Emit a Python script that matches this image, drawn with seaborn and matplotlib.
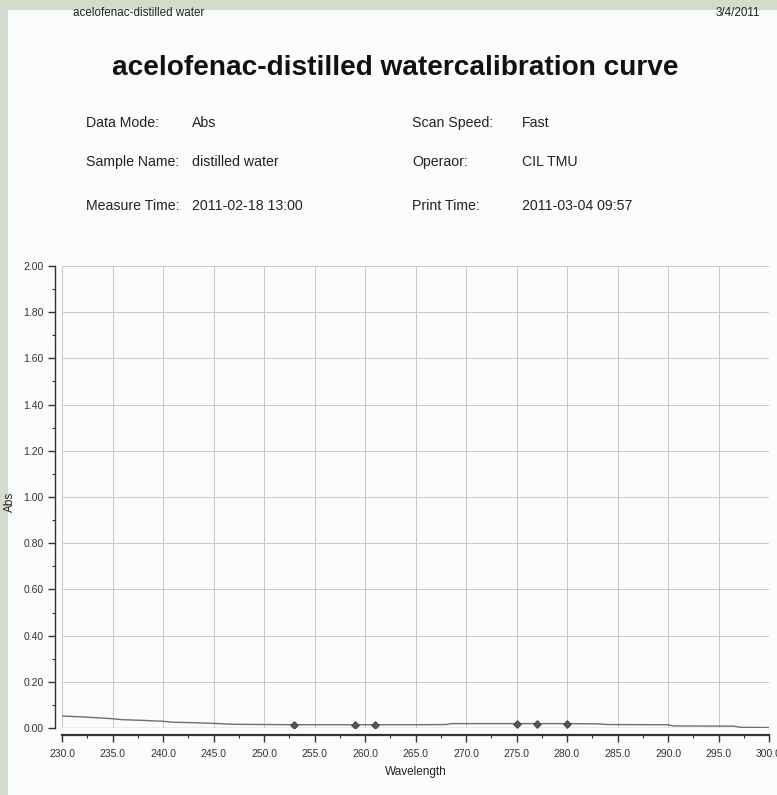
import matplotlib
matplotlib.use("Agg")
import matplotlib.pyplot as plt
from matplotlib.patches import Rectangle
from matplotlib.ticker import MultipleLocator, FormatStrFormatter
import pandas as pd
import seaborn as sns

# Spectrum trace (wavelength in nm, absorbance)
wavelength = [230.0, 232.0, 234.0, 235.0, 236.0, 238.0, 240.0, 241.0, 243.0, 245.0,
              247.0, 250.0, 255.0, 260.0, 265.0, 268.0, 268.6, 275.0, 280.0, 283.0,
              284.0, 290.0, 290.5, 296.5, 297.2, 300.0]
absorbance = [0.052, 0.048, 0.043, 0.040, 0.036, 0.033, 0.029, 0.025, 0.023, 0.020,
              0.016, 0.015, 0.014, 0.014, 0.014, 0.015, 0.019, 0.019, 0.019, 0.018,
              0.015, 0.014, 0.009, 0.008, 0.003, 0.002]

# Picked peak / valley points
pick_wavelength = [253.0, 259.0, 261.0, 275.0, 277.0, 280.0]
pick_absorbance = [0.014, 0.014, 0.014, 0.019, 0.019, 0.019]

x_ticks = [230.0, 235.0, 240.0, 245.0, 250.0, 255.0, 260.0, 265.0, 270.0, 275.0,
           280.0, 285.0, 290.0, 295.0, 300.0]
y_ticks = [0.00, 0.20, 0.40, 0.60, 0.80, 1.00, 1.20, 1.40, 1.60, 1.80, 2.00]

info_left = [("Data Mode:", "Abs"), ("Sample Name:", "distilled water"),
             ("Measure Time:", "2011-02-18 13:00")]
info_right = [("Scan Speed:", "Fast"), ("Operaor:", "CIL TMU"),
              ("Print Time:", "2011-03-04 09:57")]

sns.set_theme(style="white")
plt.rcParams["font.family"] = ["Liberation Sans", "DejaVu Sans"]

W, H = 777, 795
fig = plt.figure(figsize=(W / 100, H / 100), dpi=100, facecolor="#d3dccb")

# white sheet behind everything
fig.patches.append(Rectangle((8 / W, 0), 1, 1 - 10 / H, transform=fig.transFigure,
                             facecolor="#fbfbfb", edgecolor="none", zorder=-10))


def fx(px):
    return px / W


def fy(py):
    return 1 - py / H


fig.text(fx(73), fy(13), "acelofenac-distilled water", fontsize=8.4, color="#222",
         ha="left", va="center")
fig.text(fx(760), fy(13), "3/4/2011", fontsize=8.4, color="#222", ha="right", va="center")
fig.text(fx(395), fy(68), "acelofenac-distilled watercalibration curve", fontsize=20.2,
         fontweight="bold", color="#111", ha="center", va="center")

rows_y = [123, 162, 206]
for (lab, val), yy in zip(info_left, rows_y):
    fig.text(fx(86), fy(yy), lab, fontsize=10.2, color="#222", ha="left", va="center")
    fig.text(fx(192), fy(yy), val, fontsize=10.2, color="#222", ha="left", va="center")
for (lab, val), yy in zip(info_right, rows_y):
    fig.text(fx(412), fy(yy), lab, fontsize=10.2, color="#222", ha="left", va="center")
    fig.text(fx(522), fy(yy), val, fontsize=10.2, color="#222", ha="left", va="center")

ax = fig.add_axes([fx(62), fy(728), fx(769) - fx(62), fy(266) - fy(728)])
ax.set_facecolor("none")

df = pd.DataFrame({"Wavelength": wavelength, "Abs": absorbance})
picks = pd.DataFrame({"Wavelength": pick_wavelength, "Abs": pick_absorbance})

sns.lineplot(data=df, x="Wavelength", y="Abs", ax=ax, color="#6e6e6e", linewidth=1.0,
             zorder=3)
sns.scatterplot(data=picks, x="Wavelength", y="Abs", ax=ax, marker="D", s=16,
                color="#555555", edgecolor="#444444", linewidth=0.6, zorder=4)

ax.set_xlim(230, 300)
ax.set_ylim(0, 2.0)
ax.set_xticks(x_ticks)
ax.set_yticks(y_ticks)
ax.xaxis.set_major_formatter(FormatStrFormatter("%.1f"))
ax.yaxis.set_major_formatter(FormatStrFormatter("%.2f"))
ax.xaxis.set_minor_locator(MultipleLocator(2.5))
ax.yaxis.set_minor_locator(MultipleLocator(0.1))

ax.grid(True, which="major", color="#c8c8c8", linewidth=0.7, linestyle="-")
ax.axhline(0, color="#8a8a8a", linewidth=0.9, zorder=2)

sns.despine(ax=ax, offset=5, top=True, right=True)
ax.spines["left"].set_bounds(0, 2.0)
ax.spines["bottom"].set_bounds(230, 300)
for s in ("left", "bottom"):
    ax.spines[s].set_color("#333")
ax.spines["left"].set_linewidth(1.0)
ax.spines["bottom"].set_linewidth(1.6)

ax.tick_params(axis="both", which="major", direction="out", length=5, width=1,
               color="#333", labelsize=7.5, labelcolor="#333", bottom=True, left=True)
ax.tick_params(axis="both", which="minor", direction="out", length=2.5, width=0.8,
               color="#333", bottom=True, left=True)
ax.tick_params(axis="x", pad=5)
ax.tick_params(axis="y", pad=3)

ax.set_xlabel("Wavelength", fontsize=8.5, color="#222", labelpad=5)
ax.set_ylabel("Abs", fontsize=8.5, color="#222")
ax.yaxis.set_label_coords((16 - 62) / 707, 0.49)

fig.savefig("out.png", dpi=100, facecolor=fig.get_facecolor())
